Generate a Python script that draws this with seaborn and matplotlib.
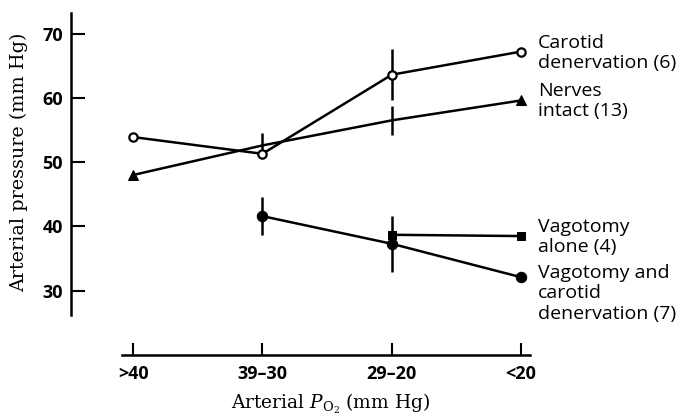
import numpy as np
import pandas as pd
import matplotlib
matplotlib.use("Agg")
import matplotlib.pyplot as plt
import seaborn as sns

# ---- data ----
categories = [">40", "39\u201330", "29\u201320", "<20"]
carotid = [53.9, 51.3, 63.6, 67.2]
carotid_err = [0.0, 0.0, 4.0, 0.0]
nerves = [48.0, 52.6, 56.5, 59.6]
nerves_err = [0.0, 2.0, 2.2, 0.0]
vag_alone = [np.nan, np.nan, 38.7, 38.5]
vag_carotid = [np.nan, 41.6, 37.3, 32.1]
vag_carotid_err = [0.0, 3.0, 4.4, 0.0]
series_labels = ["Carotid\ndenervation (6)", "Nerves\nintact (13)",
                 "Vagotomy\nalone (4)", "Vagotomy and\ncarotid\ndenervation (7)"]
yticks = [30, 40, 50, 60, 70]

sns.set_theme(style="white")
plt.rcParams["font.family"] = ["Open Sans", "DejaVu Sans"]
plt.rcParams["mathtext.fontset"] = "dejavuserif"

fig = plt.figure(figsize=(6.88, 4.19), dpi=100)
W, H = 688, 419
ax = fig.add_axes([71 / W, (H - 355) / H, (W - 71) / W, (355 - 13) / H])

xpos = np.arange(len(categories))
LW = 1.8
k = "black"

def frame(vals):
    return pd.DataFrame({"x": xpos, "y": vals}).dropna()

# Carotid denervation (open circles)
d = frame(carotid)
sns.lineplot(data=d, x="x", y="y", ax=ax, color=k, lw=LW, marker="o",
             markersize=6, markerfacecolor="white", markeredgecolor=k,
             markeredgewidth=1.6, zorder=4)
# Nerves intact (triangles at ends)
d = frame(nerves)
sns.lineplot(data=d, x="x", y="y", ax=ax, color=k, lw=LW, marker="^",
             markersize=7, markerfacecolor=k, markeredgecolor=k,
             markevery=[0, 3], zorder=3)
# Vagotomy alone (squares)
d = frame(vag_alone)
sns.lineplot(data=d, x="x", y="y", ax=ax, color=k, lw=LW, marker="s",
             markersize=6, markerfacecolor=k, markeredgecolor=k, zorder=3)
# Vagotomy and carotid denervation (filled circles)
d = frame(vag_carotid)
sns.lineplot(data=d, x="x", y="y", ax=ax, color=k, lw=LW, marker="o",
             markersize=7.5, markerfacecolor=k, markeredgecolor=k, zorder=3)

# error bars
for vals, errs in [(carotid, carotid_err), (nerves, nerves_err),
                   (vag_carotid, vag_carotid_err)]:
    v = np.array(vals, float)
    e = np.array(errs, float)
    m = (e > 0) & ~np.isnan(v)
    ax.errorbar(xpos[m], v[m], yerr=e[m], fmt="none", ecolor=k,
                elinewidth=LW, capsize=0, zorder=2)

# series labels
label_y = [67.0, 59.5, 38.3, 29.6]
for txt, yy in zip(series_labels, label_y):
    ax.text(3.13, yy, txt, ha="left", va="center", fontsize=14,
            color=k, linespacing=1.16, family=["Open Sans", "DejaVu Sans"])

# axes styling
ax.set_xlim(-0.48, 4.29)
ax.set_ylim(20, 73.2)
ax.set_xticks(xpos)
ax.set_xticklabels(categories)
ax.set_yticks(yticks)
ax.set_yticklabels([str(t) for t in yticks])
for lab in ax.get_xticklabels() + ax.get_yticklabels():
    lab.set_fontweight("bold")
    lab.set_fontsize(13)
    lab.set_color(k)

ax.spines["top"].set_visible(False)
ax.spines["right"].set_visible(False)
for s in ("left", "bottom"):
    ax.spines[s].set_color(k)
    ax.spines[s].set_linewidth(1.8)
ax.spines["left"].set_bounds(26.2, 73.2)
ax.spines["bottom"].set_bounds(-0.085, 3.07)
ax.tick_params(axis="y", direction="in", length=10, width=1.5, pad=6, colors=k, left=True)
ax.tick_params(axis="x", direction="in", length=8.5, width=1.5, pad=7, colors=k, bottom=True)
ax.grid(False)

ax.set_ylabel("Arterial pressure (mm Hg)", family="DejaVu Serif", fontsize=13.8, color=k)
ax.yaxis.set_label_coords(-0.07, 0.563)
ax.set_xlabel(r"Arterial $P_{\mathrm{O_2}}$ (mm Hg)", family="DejaVu Serif",
              fontsize=13.4, color=k)
ax.xaxis.set_label_coords(0.42, -0.108)

fig.savefig("out.png", dpi=100)
